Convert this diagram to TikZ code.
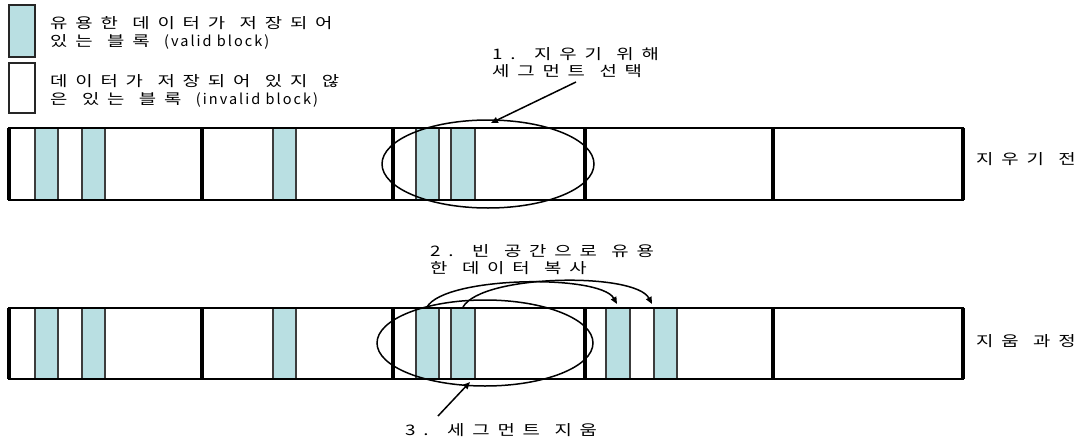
\documentclass[tikz,border=0pt]{standalone}
\usepackage{fontspec}
\setmainfont{Noto Sans CJK KR}
\newfontfamily\kr[FakeStretch=1.3, LetterSpace=54, WordSpace=1.2]{Noto Sans CJK KR}
\newfontfamily\kl[LetterSpace=14]{Noto Sans CJK KR}
\usetikzlibrary{arrows.meta,shapes.geometric}
\definecolor{valid}{RGB}{185,223,226}
\definecolor{blockline}{RGB}{60,60,60}
\begin{document}
\begin{tikzpicture}[x=1pt,y=-1pt,
  lbl/.style={inner sep=0pt, anchor=west, align=left, font=\fontsize{14.5}{17.5}\selectfont\kr},
  vblock/.style={fill=valid, draw=blockline, line width=1.2pt},
  legbox/.style={draw=black!85, line width=2pt},
  outer/.style={draw=black, line width=2.5pt},
  seg/.style={draw=black, line width=3.8pt},
  eli/.style={ellipse, draw=black, line width=1.5pt, inner sep=0pt, outer sep=0pt},
  arr/.style={draw=black, line width=1.5pt, -{Triangle[length=7pt,width=6pt]}}
]
\useasboundingbox (0,0) rectangle (1086,439);

% legend
\draw[legbox, fill=valid] (9,5) rectangle (35,57);
\draw[legbox] (9,63) rectangle (35,113);
\node[lbl] (leg1) at (50,33) {유용한 데이터가 저장되어\\있는 블록 {\kl(valid block)}};
\node[lbl] (leg2) at (50,91) {데이터가 저장되어 있지 않\\은 있는 블록 {\kl(invalid block)}};

% top row
\foreach \a/\b in {35/58, 82/105, 273/296, 416/439, 451/475}
  \draw[vblock] (\a,128) rectangle (\b,200);
\draw[outer] (9,128) rectangle (963,200);
\foreach \x in {9, 202, 393, 585, 773, 963}
  \draw[seg] (\x,128) -- (\x,200);

% bottom row
\foreach \a/\b in {35/58, 82/105, 273/296, 416/439, 451/475, 606/630, 654/677}
  \draw[vblock] (\a,308) rectangle (\b,379);
\draw[outer] (9,308) rectangle (963,379);
\foreach \x in {9, 202, 393, 585, 773, 963}
  \draw[seg] (\x,308) -- (\x,379);

% ellipses
\node[eli, minimum width=212pt, minimum height=88pt] (sel1) at (488,164) {};
\node[eli, minimum width=216pt, minimum height=86pt] (sel2) at (485,343) {};

% labels
\node[lbl] (t1) at (492,62.5) {1. 지우기 위해\\세그먼트 선택};
\node[lbl] (t2) at (430,259.5) {2. 빈 공간으로 유용\\한 데이터 복사};
\node[lbl] (t3) at (405,430) {3. 세그먼트 지움};
\node[lbl] (r1) at (976,159) {지우기 전};
\node[lbl] (r2) at (976,341) {지움 과정};

% connectors
\coordinate (a1s) at (576,82);
\coordinate (a1e) at (491,123);
\draw[arr] (a1s) -- (a1e);

\coordinate (c1s) at (427,307);
\coordinate (c1e) at (617,304);
\coordinate (c2s) at (463,307);
\coordinate (c2e) at (652,304);
\draw[arr] (c1s) .. controls (445,276) and (600,274) .. (c1e);
\draw[arr] (c2s) .. controls (482,274) and (635,272) .. (c2e);

\coordinate (a3s) at (438,416);
\coordinate (a3e) at (470,382);
\draw[arr] (a3s) -- (a3e);
\end{tikzpicture}
\end{document}
